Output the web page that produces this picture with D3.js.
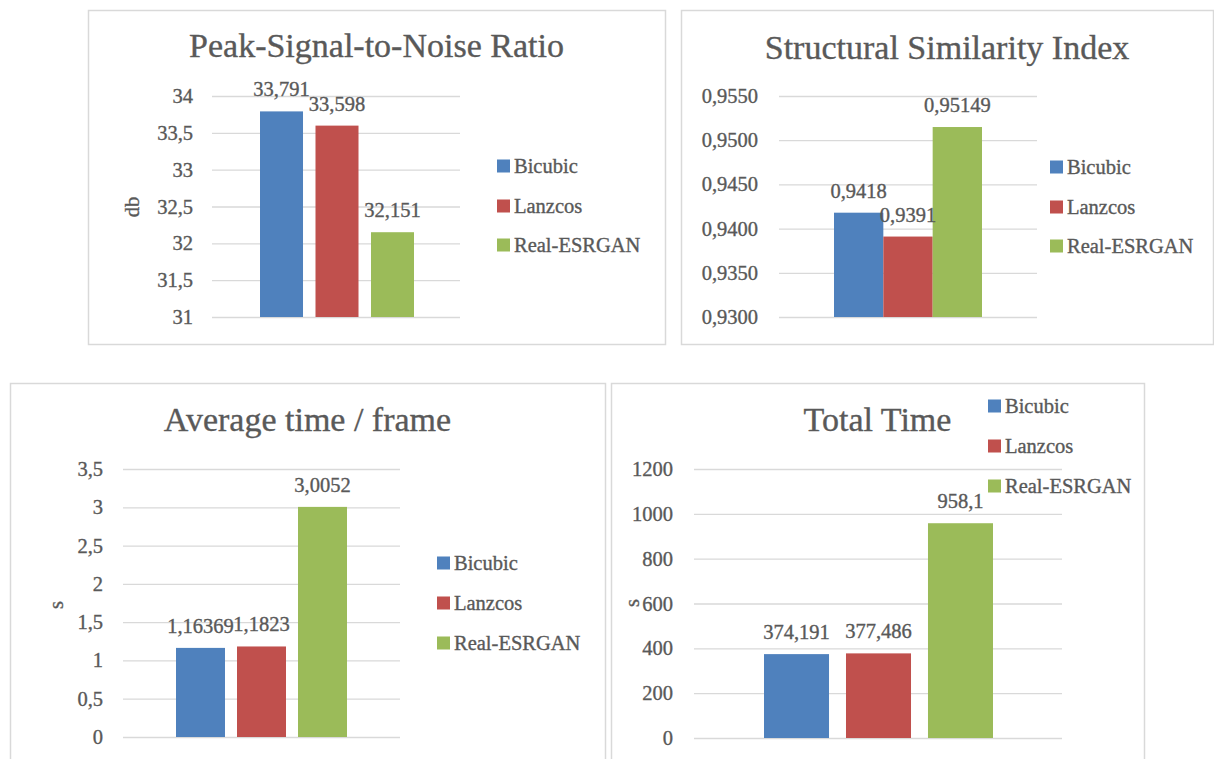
<!DOCTYPE html>
<html>
<head>
<meta charset="utf-8">
<script src="https://cdn.jsdelivr.net/npm/d3@7"></script>
<style>
  html, body { margin: 0; padding: 0; background: #fff; }
  svg { display: block; }
  text { fill: #595959; stroke: #595959; stroke-width: 0.35px; font-family: "Liberation Serif", serif; }
</style>
</head>
<body>
<svg id="chart" width="1214" height="759"></svg>
<script>
// ---- data ----
const series = ["Bicubic", "Lanzcos", "Real-ESRGAN"];
const colors = ["#4F81BD", "#C0504D", "#9BBB59"];

const psnrValues = [33.791, 33.598, 32.151];
const psnrTicks = [31, 31.5, 32, 32.5, 33, 33.5, 34];

const ssimValues = [0.9418, 0.9391, 0.95149];
const ssimTicks = [0.93, 0.935, 0.94, 0.945, 0.95, 0.955];

const avgTimeValues = [1.16369, 1.1823, 3.0052];
const avgTimeTicks = [0, 0.5, 1, 1.5, 2, 2.5, 3, 3.5];

const totalTimeValues = [374.191, 377.486, 958.1];
const totalTimeTicks = [0, 200, 400, 600, 800, 1000, 1200];

const titles = ["Peak-Signal-to-Noise Ratio", "Structural Similarity Index", "Average time / frame", "Total Time"];
const yTitles = ["db", "", "s", "s"];

// ---- helpers ----
const comma = v => String(v).replace(".", ",");
const tickFmt4 = v => v.toFixed(4).replace(".", ",");

const svg = d3.select("#chart");
const small = "20.5px";

const panels = [
  { box: [88, 10, 665, 344], title: titles[0], titleY: 57, values: psnrValues, ticks: psnrTicks, fmt: comma,
    plotX: [212, 460], plotY: [317, 96], bars: [260, 414, 0.225], tickX: 193,
    yTitle: yTitles[0], yTitlePos: [132, 207], legend: [497, [166, 206, 245]] },
  { box: [681, 10, 1213, 344], title: titles[1], titleY: 59, values: ssimValues, ticks: ssimTicks, fmt: tickFmt4,
    plotX: [779, 1037], plotY: [317, 96], bars: [834, 982, 0], tickX: 758,
    yTitle: yTitles[1], yTitlePos: null, legend: [1050, [167, 207, 246]] },
  { box: [10, 383, 605, 770], title: titles[2], titleY: 431, values: avgTimeValues, ticks: avgTimeTicks, fmt: comma,
    plotX: [123, 400], plotY: [737, 469], bars: [176, 347, 0.197], tickX: 103,
    yTitle: yTitles[2], yTitlePos: [56, 605], legend: [437, [563, 603, 643]] },
  { box: [611, 383, 1144, 770], title: titles[3], titleY: 431, values: totalTimeValues, ticks: totalTimeTicks, fmt: comma,
    plotX: [694, 1062], plotY: [738, 469], bars: [764, 993, 0.207], tickX: 673,
    yTitle: yTitles[3], yTitlePos: [632, 603], legend: [988, [406, 446, 486]] }
];

panels.forEach(p => {
  const g = svg.append("g");
  const [bx0, by0, bx1, by1] = p.box;

  g.append("rect")
    .attr("x", bx0 + 0.5).attr("y", by0 + 0.5)
    .attr("width", bx1 - bx0).attr("height", by1 - by0)
    .attr("fill", "#fff").attr("stroke", "#D9D9D9").attr("stroke-width", 1.5);

  g.append("text")
    .attr("x", (bx0 + bx1) / 2).attr("y", p.titleY)
    .attr("text-anchor", "middle")
    .style("font-size", "34px")
    .text(p.title);

  const y = d3.scaleLinear()
    .domain([p.ticks[0], p.ticks[p.ticks.length - 1]])
    .range(p.plotY);

  const x = d3.scaleBand()
    .domain(series)
    .range([p.bars[0], p.bars[1]])
    .paddingInner(p.bars[2])
    .paddingOuter(0);

  // gridlines + tick labels via axis
  const axis = d3.axisLeft(y)
    .tickValues(p.ticks)
    .tickFormat(p.fmt)
    .tickSize(-(p.plotX[1] - p.plotX[0]))
    .tickPadding(p.plotX[0] - p.tickX);

  const ag = g.append("g")
    .attr("transform", `translate(${p.plotX[0]},0)`)
    .call(axis);
  ag.select(".domain").remove();
  ag.selectAll(".tick line").attr("stroke", "#D9D9D9").attr("stroke-width", 1.3);
  ag.selectAll(".tick text")
    .attr("fill", "#595959")
    .style("font-family", "'Liberation Serif', serif")
    .style("font-size", small);

  // bars
  g.selectAll("rect.bar")
    .data(p.values)
    .join("rect")
    .attr("class", "bar")
    .attr("x", (d, i) => x(series[i]))
    .attr("width", x.bandwidth())
    .attr("y", d => y(d))
    .attr("height", d => y.range()[0] - y(d))
    .attr("fill", (d, i) => colors[i]);

  // data labels
  g.selectAll("text.lbl")
    .data(p.values)
    .join("text")
    .attr("class", "lbl")
    .attr("x", (d, i) => x(series[i]) + x.bandwidth() / 2)
    .attr("y", d => y(d) - 15)
    .attr("text-anchor", "middle")
    .style("font-size", small)
    .text(d => comma(d));

  // y-axis title
  if (p.yTitle) {
    g.append("text")
      .attr("transform", `translate(${p.yTitlePos[0]},${p.yTitlePos[1]}) rotate(-90)`)
      .attr("text-anchor", "middle")
      .attr("dy", "0.35em")
      .style("font-size", small)
      .text(p.yTitle);
  }

  // legend
  const lg = g.append("g");
  series.forEach((s, i) => {
    const cy = p.legend[1][i];
    lg.append("rect")
      .attr("x", p.legend[0]).attr("y", cy - 6.5)
      .attr("width", 13).attr("height", 13)
      .attr("fill", colors[i]);
    lg.append("text")
      .attr("x", p.legend[0] + 17).attr("y", cy)
      .attr("dy", "0.35em")
      .style("font-size", small)
      .text(s);
  });
});
</script>
</body>
</html>
